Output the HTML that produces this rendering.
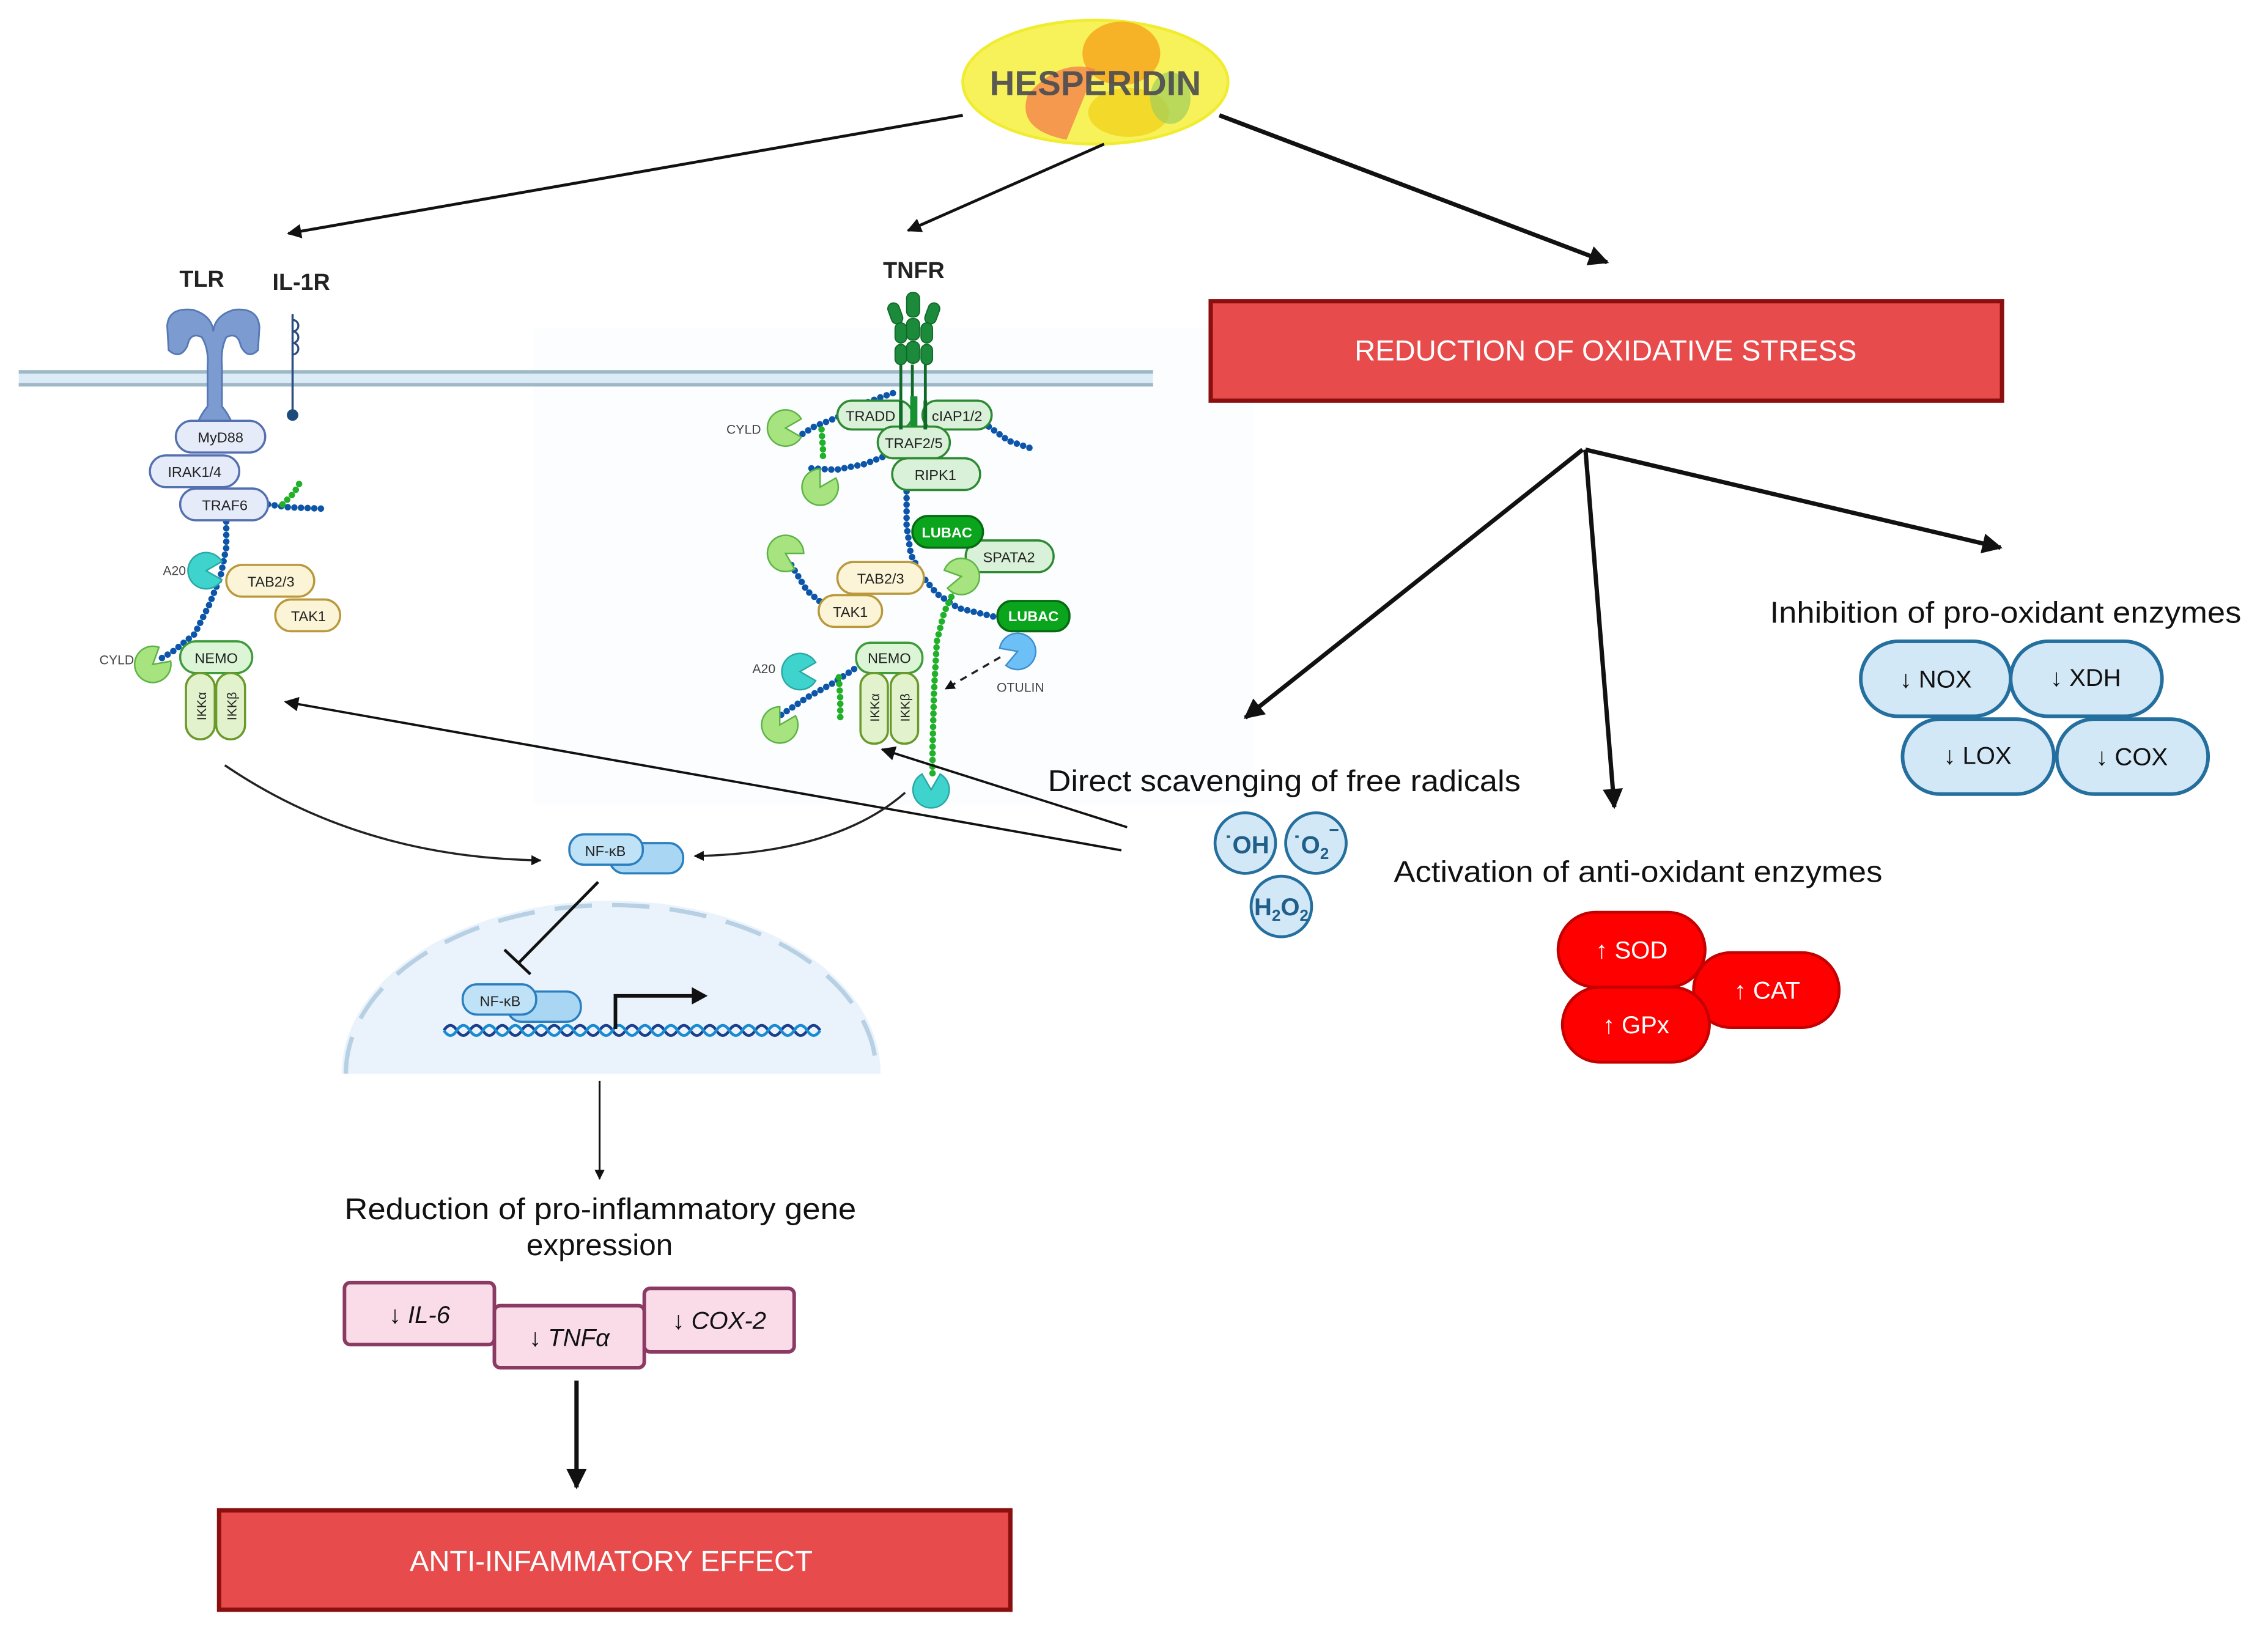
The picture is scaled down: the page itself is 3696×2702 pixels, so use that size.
<!DOCTYPE html>
<html><head><meta charset="utf-8"><style>
html,body{margin:0;padding:0;background:#fff;}
svg{display:block;}
text{font-family:"Liberation Sans",sans-serif;}
</style></head><body>
<svg width="3696" height="2702" viewBox="0 0 1568 1146.3" xmlns="http://www.w3.org/2000/svg">
<defs>
<marker id="ah" viewBox="0 0 10 10" refX="9" refY="5" markerWidth="7" markerHeight="7" orient="auto" markerUnits="userSpaceOnUse"><path d="M0,0 L10,5 L0,10 z" fill="#111"/></marker>
<marker id="ahb" viewBox="0 0 10 10" refX="9" refY="5" markerWidth="18" markerHeight="14" orient="auto" markerUnits="userSpaceOnUse"><path d="M0,0 L10,5 L0,10 z" fill="#111"/></marker>
<marker id="ahm" viewBox="0 0 10 10" refX="9" refY="5" markerWidth="12" markerHeight="10" orient="auto" markerUnits="userSpaceOnUse"><path d="M0,0 L10,5 L0,10 z" fill="#111"/></marker>
<path id="pac" d="M0 0 L10.4 -6 A12 12 0 1 0 10.4 6 Z"/>
</defs>

<!-- faint cytoplasm background -->
<rect x="370" y="228" width="500" height="330" fill="#fbfdfe"/>

<!-- membrane -->
<rect x="13" y="257" width="787" height="11" fill="#dcecf7"/>
<line x1="13" y1="258" x2="800" y2="258" stroke="#9fb8c8" stroke-width="2.5"/>
<line x1="13" y1="267" x2="800" y2="267" stroke="#9fb8c8" stroke-width="2.5"/>

<!-- HESPERIDIN -->
<ellipse cx="760" cy="57" rx="92" ry="43" fill="#f8f25a" stroke="#f0ec30" stroke-width="2"/>
<ellipse cx="778" cy="37" rx="27" ry="22" fill="#f6a820" opacity="0.85"/>
<path d="M713 66 Q735 40 760 48 L740 97 Q705 90 713 66Z" fill="#f3824a" opacity="0.8"/>
<ellipse cx="783" cy="78" rx="28" ry="17" fill="#f2d622" opacity="0.85"/>
<ellipse cx="812" cy="68" rx="14" ry="18" fill="#9fcd5a" opacity="0.7"/>
<text x="760" y="66" font-size="24" font-weight="bold" fill="#4a4a52" text-anchor="middle" opacity="0.9">HESPERIDIN</text>

<!-- top arrows -->
<line x1="668" y1="80" x2="200" y2="162" stroke="#111" stroke-width="2" marker-end="url(#ahm)"/>
<line x1="766" y1="100" x2="630" y2="160" stroke="#111" stroke-width="2" marker-end="url(#ahm)"/>
<line x1="846" y1="80" x2="1115" y2="182" stroke="#111" stroke-width="3" marker-end="url(#ahb)"/>

<!-- Red box top -->
<rect x="840" y="209" width="549" height="69" fill="#e74b4b" stroke="#8c0f10" stroke-width="3"/>
<text x="1114" y="250" font-size="20" fill="#fff" text-anchor="middle">REDUCTION OF OXIDATIVE STRESS</text>

<!-- branch arrows -->
<line x1="1098" y1="312" x2="864" y2="498" stroke="#111" stroke-width="3" marker-end="url(#ahb)"/>
<line x1="1100" y1="312" x2="1120" y2="560" stroke="#111" stroke-width="3" marker-end="url(#ahb)"/>
<line x1="1100" y1="312" x2="1388" y2="380" stroke="#111" stroke-width="3" marker-end="url(#ahb)"/>

<!-- Inhibition of pro-oxidant enzymes -->
<text x="1228" y="432" font-size="21" fill="#111" textLength="327" lengthAdjust="spacingAndGlyphs">Inhibition of pro-oxidant enzymes</text>
<g fill="#d3e8f7" stroke="#246f9e" stroke-width="2.5">
<rect x="1291" y="445" width="104" height="52" rx="26"/>
<rect x="1395" y="445" width="105" height="52" rx="26"/>
<rect x="1320" y="499" width="105" height="52" rx="26"/>
<rect x="1427" y="499" width="105" height="52" rx="26"/>
</g>
<g font-size="17" fill="#111" text-anchor="middle">
<text x="1343" y="477">↓ NOX</text><text x="1447" y="476">↓ XDH</text>
<text x="1372" y="530">↓ LOX</text><text x="1479" y="531">↓ COX</text>
</g>

<!-- Direct scavenging -->
<text x="727" y="549" font-size="21" fill="#111" textLength="328" lengthAdjust="spacingAndGlyphs">Direct scavenging of free radicals</text>
<g fill="#d3e8f7" stroke="#246f9e" stroke-width="2">
<circle cx="864" cy="585" r="21"/><circle cx="913" cy="585" r="21"/><circle cx="889" cy="629" r="21"/>
</g>
<g font-size="17" font-weight="bold" fill="#1f5f8a" text-anchor="middle">
<text x="865" y="592">˙OH</text><text x="913" y="592">˙O<tspan font-size="11" dy="4">2</tspan><tspan font-size="12" dy="-16">−</tspan></text>
<text x="889" y="635">H<tspan font-size="11" dy="4">2</tspan><tspan dy="-4">O</tspan><tspan font-size="11" dy="4">2</tspan></text>
</g>

<!-- Activation of anti-oxidant enzymes -->
<text x="967" y="612" font-size="21" fill="#111" textLength="339" lengthAdjust="spacingAndGlyphs">Activation of anti-oxidant enzymes</text>
<g fill="#fe0000" stroke="#c40000" stroke-width="2">
<rect x="1175" y="661" width="101" height="52" rx="26"/>
<rect x="1081" y="633" width="102" height="52" rx="26"/>
<rect x="1084" y="685" width="102" height="52" rx="26"/>
</g>
<g font-size="17" fill="#fff" text-anchor="middle">
<text x="1132" y="665">↑ SOD</text><text x="1226" y="693">↑ CAT</text><text x="1135" y="717">↑ GPx</text>
</g>

<!-- Left receptor labels -->
<text x="140" y="199" font-size="16" font-weight="bold" fill="#222" text-anchor="middle">TLR</text>
<text x="209" y="201" font-size="16" font-weight="bold" fill="#222" text-anchor="middle">IL-1R</text>
<!-- TLR shape -->
<path d="M116 226 Q117 213 134 215 Q147 219 148 230 Q149 219 162 215 Q179 213 180 227 L179 243 Q172 250 167 240 Q165 230 157 234 Q153 242 154 254 L154 282 Q159 288 161 294 L137 294 Q139 288 144 282 L144 254 Q145 242 140 234 Q132 230 130 240 Q125 250 117 243Z" fill="#7b9bd1" stroke="#5678b3" stroke-width="1.2"/>
<!-- IL-1R -->
<line x1="203" y1="218" x2="203" y2="287" stroke="#2b4d7d" stroke-width="1.5"/>
<circle cx="203" cy="288" r="4" fill="#1d4c7a"/>
<path d="M203 222 a4 4 0 1 1 0 8 a4 4 0 1 1 0 8 a4 4 0 1 1 0 8" fill="none" stroke="#2b4d7d" stroke-width="1.4"/>

<!-- left chains -->
<polyline points="157,362 157,380 153,400 145,420 135,440 120,452 110,458" fill="none" stroke="#0d55a8" stroke-width="4.5" stroke-linecap="round" stroke-dasharray="0 4.6"/>
<polyline points="186,350 200,352 225,353" fill="none" stroke="#0d55a8" stroke-width="4.5" stroke-linecap="round" stroke-dasharray="0 4.6"/>
<polyline points="196,350 204,342 208,335" fill="none" stroke="#22b02a" stroke-width="4.5" stroke-linecap="round" stroke-dasharray="0 4.6"/>

<!-- left proteins -->
<g stroke-width="1.5">
<rect x="122" y="292" width="62" height="22" rx="11" fill="#e5ebf9" stroke="#5570b0"/>
<rect x="104" y="316" width="62" height="22" rx="11" fill="#e5ebf9" stroke="#5570b0"/>
<rect x="125" y="339" width="61" height="22" rx="11" fill="#e5ebf9" stroke="#5570b0"/>
<rect x="157" y="392" width="61" height="22" rx="11" fill="#fbf4d6" stroke="#b9993c"/>
<rect x="191" y="416" width="45" height="22" rx="11" fill="#fbf4d6" stroke="#b9993c"/>
<rect x="125" y="445" width="50" height="22" rx="11" fill="#dcf5d6" stroke="#3d9b3a"/>
<rect x="129" y="467" width="20" height="46" rx="10" fill="#e2f2cc" stroke="#6a9a2a"/>
<rect x="150" y="467" width="20" height="46" rx="10" fill="#e2f2cc" stroke="#6a9a2a"/>
</g>
<use href="#pac" transform="translate(143,396) scale(1.05)" fill="#3fd3cd" stroke="#2aa8a3" stroke-width="1"/>
<use href="#pac" transform="translate(106,461) rotate(-40) scale(1.05)" fill="#a7e37f" stroke="#5cb346" stroke-width="1"/>
<g font-size="10" fill="#222" text-anchor="middle">
<text x="153" y="307">MyD88</text><text x="135" y="331">IRAK1/4</text><text x="156" y="354">TRAF6</text>
<text x="188" y="407">TAB2/3</text><text x="214" y="431">TAK1</text><text x="150" y="460">NEMO</text>
<text transform="translate(143,490) rotate(-90)" font-size="9">IKKα</text>
<text transform="translate(164,490) rotate(-90)" font-size="9">IKKβ</text>
</g>
<text x="121" y="399" font-size="9" fill="#444" text-anchor="middle">A20</text>
<text x="81" y="461" font-size="9" fill="#444" text-anchor="middle">CYLD</text>

<!-- TNFR -->
<text x="634" y="193" font-size="16" font-weight="bold" fill="#222" text-anchor="middle">TNFR</text>
<g fill="#1b8a3a" stroke="#0f6a27" stroke-width="0.8">
<rect x="629" y="203" width="9" height="17" rx="4"/>
<rect x="629" y="221" width="9" height="15" rx="4"/>
<rect x="629" y="237" width="9" height="15" rx="4"/>
<rect x="617" y="210" width="8" height="15" rx="4" transform="rotate(-20 621 217)"/>
<rect x="643" y="210" width="8" height="15" rx="4" transform="rotate(20 647 217)"/>
<rect x="621" y="224" width="8" height="14" rx="4"/><rect x="639" y="224" width="8" height="14" rx="4"/>
<rect x="621" y="239" width="8" height="14" rx="4"/><rect x="639" y="239" width="8" height="14" rx="4"/>
</g>
<g stroke="#0f6a27" stroke-width="2"><line x1="625" y1="253" x2="625" y2="290"/><line x1="633" y1="253" x2="633" y2="290"/><line x1="642" y1="253" x2="642" y2="290"/></g>

<!-- TNFR chains -->
<g fill="none" stroke-linecap="round" stroke-width="4.5" stroke-dasharray="0 4.6">
<polyline points="549,306 565,296 580,290 595,282 610,276 622,272" stroke="#0d55a8"/>
<polyline points="570,298 571,312 571,320" stroke="#22b02a"/>
<polyline points="686,296 700,306 718,312" stroke="#0d55a8"/>
<polyline points="563,325 580,326 600,322 615,316" stroke="#0d55a8"/>
<polyline points="629,341 629,365 632,385 640,400 650,412 665,422 690,428" stroke="#0d55a8"/>
<polyline points="549,392 560,410 572,420" stroke="#0d55a8"/>
<polyline points="662,410 655,425 650,445 648,480 647,520 647,540" stroke="#22b02a"/>
<polyline points="542,496 560,484 578,474 593,464" stroke="#0d55a8"/>
<polyline points="582,470 583,485 583,500" stroke="#22b02a"/>
</g>

<g stroke-width="1.5">
<rect x="581" y="278" width="52" height="20" rx="10" fill="#daf1d9" stroke="#2d8a33"/>
<rect x="640" y="278" width="48" height="20" rx="10" fill="#daf1d9" stroke="#2d8a33"/>
<rect x="609" y="296" width="50" height="22" rx="11" fill="#daf1d9" stroke="#2d8a33"/>
<rect x="619" y="318" width="61" height="22" rx="11" fill="#daf1d9" stroke="#2d8a33"/>
<rect x="670" y="375" width="61" height="22" rx="11" fill="#daf1d9" stroke="#2d8a33"/>
<rect x="633" y="358" width="49" height="22" rx="11" fill="#0aa51c" stroke="#066b12"/>
<rect x="581" y="390" width="60" height="22" rx="11" fill="#fbf4d6" stroke="#b9993c"/>
<rect x="568" y="413" width="44" height="22" rx="11" fill="#fbf4d6" stroke="#b9993c"/>
<rect x="692" y="417" width="50" height="21" rx="10" fill="#0aa51c" stroke="#066b12"/>
<rect x="594" y="446" width="46" height="21" rx="10" fill="#dcf5d6" stroke="#3d9b3a"/>
<rect x="597" y="467" width="19" height="49" rx="9" fill="#e2f2cc" stroke="#6a9a2a"/>
<rect x="618" y="467" width="19" height="49" rx="9" fill="#e2f2cc" stroke="#6a9a2a"/>
</g>
<g stroke="#0f6a27" stroke-width="2.5"><line x1="625" y1="278" x2="625" y2="298"/><line x1="642" y1="278" x2="642" y2="298"/></g>
<line x1="634" y1="275" x2="634" y2="296" stroke="#169233" stroke-width="5"/>
<g stroke-width="1">
<use href="#pac" transform="translate(545,297) scale(1.05)" fill="#a7e37f" stroke="#5cb346"/>
<use href="#pac" transform="translate(569,338) rotate(-60) scale(1.05)" fill="#a7e37f" stroke="#5cb346"/>
<use href="#pac" transform="translate(545,384) rotate(30) scale(1.05)" fill="#a7e37f" stroke="#5cb346"/>
<use href="#pac" transform="translate(667,400) rotate(170) scale(1.05)" fill="#a7e37f" stroke="#5cb346"/>
<use href="#pac" transform="translate(706,452) rotate(160) scale(1.05)" fill="#6cc0f6" stroke="#3d8fd0"/>
<use href="#pac" transform="translate(555,466) scale(1.05)" fill="#3fd3cd" stroke="#2aa8a3"/>
<use href="#pac" transform="translate(541,503) rotate(-60) scale(1.05)" fill="#a7e37f" stroke="#5cb346"/>
<use href="#pac" transform="translate(646,548) rotate(-90) scale(1.05)" fill="#3fd3cd" stroke="#2aa8a3"/>
</g>
<g font-size="10" fill="#222" text-anchor="middle">
<text x="604" y="292">TRADD</text><text x="664" y="292">cIAP1/2</text><text x="634" y="311">TRAF2/5</text>
<text x="649" y="333">RIPK1</text><text x="700" y="390">SPATA2</text><text x="611" y="405">TAB2/3</text>
<text x="590" y="428">TAK1</text><text x="617" y="460">NEMO</text>
<text transform="translate(610,491) rotate(-90)" font-size="9">IKKα</text>
<text transform="translate(631,491) rotate(-90)" font-size="9">IKKβ</text>
<text x="657" y="373" fill="#fff" font-weight="bold">LUBAC</text>
<text x="717" y="431" fill="#fff" font-weight="bold">LUBAC</text>
</g>
<g font-size="9" fill="#444" text-anchor="middle">
<text x="516" y="301">CYLD</text><text x="530" y="467">A20</text><text x="708" y="480">OTULIN</text>
</g>
<line x1="694" y1="456" x2="656" y2="478" stroke="#222" stroke-width="1.5" stroke-dasharray="5 4" marker-end="url(#ah)"/>

<!-- arrows back to IKK -->
<line x1="778" y1="590" x2="198" y2="487" stroke="#111" stroke-width="1.6" marker-end="url(#ahm)"/>
<line x1="782" y1="574" x2="612" y2="520" stroke="#111" stroke-width="1.6" marker-end="url(#ahm)"/>

<!-- curves to NF-kB -->
<path d="M156 531 Q250 595 375 597" fill="none" stroke="#222" stroke-width="1.5" marker-end="url(#ah)"/>
<path d="M628 550 Q580 592 482 594" fill="none" stroke="#222" stroke-width="1.5" marker-end="url(#ah)"/>

<!-- NF-kB cytoplasm -->
<rect x="423" y="585" width="51" height="21" rx="10" fill="#a8d6f3" stroke="#2a7fc0" stroke-width="1.5"/>
<rect x="395" y="579" width="51" height="21" rx="10" fill="#bfe2f7" stroke="#2a7fc0" stroke-width="1.5"/>
<text x="420" y="594" font-size="10" fill="#222" text-anchor="middle">NF-κB</text>

<!-- nucleus -->
<path d="M237 745 A187 120 0 0 1 611 745 Z" fill="#eaf3fc"/>
<path d="M240 745 A184 117 0 0 1 608 745" fill="none" stroke="#b7d0e3" stroke-width="3" stroke-dasharray="26 14"/>
<!-- inhibit line -->
<line x1="415" y1="612" x2="360" y2="668" stroke="#111" stroke-width="2"/>
<line x1="350" y1="659" x2="368" y2="676" stroke="#111" stroke-width="2"/>

<!-- nuclear NF-kB -->
<rect x="352" y="688" width="51" height="21" rx="10" fill="#a8d6f3" stroke="#2a7fc0" stroke-width="1.5"/>
<rect x="321" y="683" width="51" height="21" rx="10" fill="#bfe2f7" stroke="#2a7fc0" stroke-width="1.5"/>
<text x="347" y="698" font-size="10" fill="#222" text-anchor="middle">NF-κB</text>
<!-- DNA -->
<path d="M308 715 q4.5 -7 9 0 t9 0 t9 0 t9 0 t9 0 t9 0 t9 0 t9 0 t9 0 t9 0 t9 0 t9 0 t9 0 t9 0 t9 0 t9 0 t9 0 t9 0 t9 0 t9 0 t9 0 t9 0 t9 0 t9 0 t9 0 t9 0 t9 0 t9 0 t9 0" fill="none" stroke="#1b3f8a" stroke-width="2"/>
<path d="M308 715 q4.5 7 9 0 t9 0 t9 0 t9 0 t9 0 t9 0 t9 0 t9 0 t9 0 t9 0 t9 0 t9 0 t9 0 t9 0 t9 0 t9 0 t9 0 t9 0 t9 0 t9 0 t9 0 t9 0 t9 0 t9 0 t9 0 t9 0 t9 0 t9 0 t9 0" fill="none" stroke="#1a8bd1" stroke-width="2"/>
<polyline points="427,714 427,691 482,691" fill="none" stroke="#111" stroke-width="2.5"/>
<path d="M480 685 L491 691 L480 697Z" fill="#111"/>

<!-- to gene expression -->
<line x1="416" y1="750" x2="416" y2="818" stroke="#111" stroke-width="1.3" marker-end="url(#ah)"/>
<text x="239" y="846" font-size="21" fill="#111" textLength="355" lengthAdjust="spacingAndGlyphs">Reduction of pro-inflammatory gene</text>
<text x="416" y="871" font-size="21" fill="#111" text-anchor="middle">expression</text>
<g fill="#fadce8" stroke="#8a3a63" stroke-width="2.5">
<rect x="239" y="890" width="104" height="43" rx="4"/>
<rect x="447" y="894" width="104" height="44" rx="4"/>
<rect x="343" y="906" width="104" height="43" rx="4"/>
</g>
<g font-size="17" fill="#111" text-anchor="middle" font-style="italic">
<text x="291" y="918">↓ IL-6</text><text x="395" y="934">↓ TNFα</text><text x="499" y="922">↓ COX-2</text>
</g>
<line x1="400" y1="958" x2="400" y2="1032" stroke="#111" stroke-width="3" marker-end="url(#ahb)"/>

<rect x="152" y="1048" width="549" height="69" fill="#e74b4b" stroke="#8c0f10" stroke-width="3"/>
<text x="424" y="1090" font-size="20" fill="#fff" text-anchor="middle">ANTI-INFAMMATORY EFFECT</text>
</svg>
</body></html>
